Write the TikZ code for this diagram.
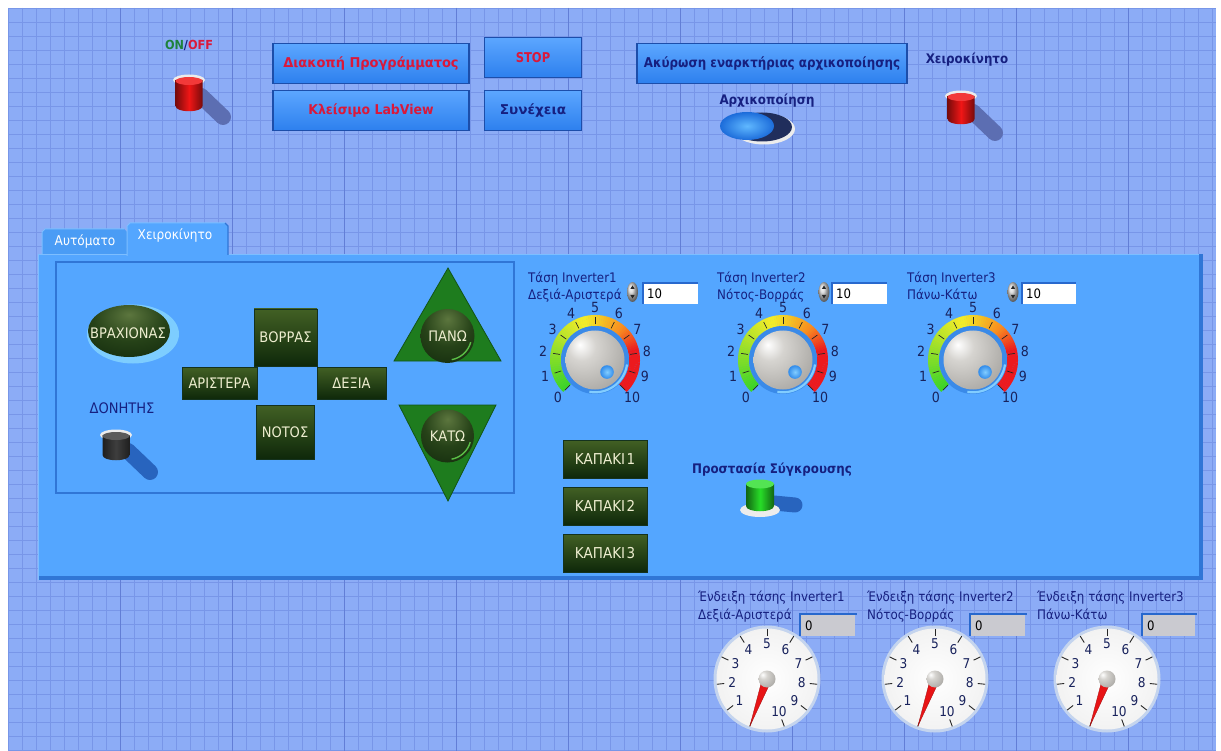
\documentclass[tikz,border=0pt]{standalone}
\usepackage{fontspec}
\setmainfont{DejaVu Sans Condensed}
\usetikzlibrary{shapes.geometric}

\definecolor{gridbg}{RGB}{140,172,246}
\definecolor{gridmin}{RGB}{120,150,232}
\definecolor{gridmaj}{RGB}{98,126,214}
\definecolor{panel}{RGB}{84,166,255}
\definecolor{paneldk}{RGB}{48,118,214}
\definecolor{panellt}{RGB}{125,190,255}
\definecolor{tabc}{RGB}{74,156,245}
\definecolor{btntop}{RGB}{92,166,255}
\definecolor{btnbot}{RGB}{45,128,238}
\definecolor{btnedge}{RGB}{28,78,170}
\definecolor{navy}{RGB}{22,32,128}
\definecolor{btnred}{RGB}{218,24,58}
\definecolor{ongreen}{RGB}{30,130,60}
\definecolor{gtop}{RGB}{66,96,36}
\definecolor{gbot}{RGB}{14,40,10}
\definecolor{gedge}{RGB}{20,50,30}
\definecolor{cream}{RGB}{238,238,208}
\definecolor{trigreen}{RGB}{30,124,30}
\definecolor{triedge}{RGB}{18,84,22}
\definecolor{ballin}{RGB}{92,118,62}
\definecolor{ballmid}{RGB}{38,66,24}
\definecolor{ballout}{RGB}{10,32,8}
\definecolor{ballrim}{RGB}{90,190,70}
\definecolor{glow}{RGB}{125,205,255}
\definecolor{kg}{RGB}{60,212,40}
\definecolor{ky}{RGB}{242,236,40}
\definecolor{ko}{RGB}{250,140,30}
\definecolor{kr}{RGB}{236,26,30}
\definecolor{knobring}{RGB}{58,138,232}
\definecolor{knobdot}{RGB}{50,140,235}
\definecolor{knobdotlt}{RGB}{130,205,255}
\definecolor{numc}{RGB}{24,34,92}
\definecolor{gaugerim}{RGB}{196,212,238}
\definecolor{needlered}{RGB}{232,20,22}
\definecolor{dispgrey}{RGB}{202,202,208}
\definecolor{boxedge}{RGB}{40,104,205}
\definecolor{swshadow}{RGB}{92,110,178}
\definecolor{swshadowp}{RGB}{40,100,190}
\definecolor{redbody}{RGB}{240,22,22}
\definecolor{blkbody}{RGB}{62,62,62}
\definecolor{rimwhite}{RGB}{236,236,236}
\definecolor{greenbody}{RGB}{40,222,40}
\definecolor{ovalin}{RGB}{96,184,255}
\definecolor{ovalout}{RGB}{28,108,218}
\definecolor{ovaldark}{RGB}{32,46,92}
\definecolor{metallt}{RGB}{214,212,208}
\definecolor{metalmid}{RGB}{176,174,170}
\definecolor{metaldk}{RGB}{140,138,136}

% light metal sphere, highlight at upper left
\pgfdeclareradialshading{metalball}{\pgfpoint{-13bp}{13bp}}{%
  color(0bp)=(white); color(12bp)=(metallt); color(34bp)=(metalmid);
  color(58bp)=(metaldk); color(100bp)=(metaldk)}
% dark green dome, highlight at the top
\pgfdeclareradialshading{greendome}{\pgfpoint{0bp}{16bp}}{%
  color(0bp)=(ballin); color(22bp)=(ballmid); color(52bp)=(ballout);
  color(100bp)=(ballout)}

% two-position lamp switch: #1 top centre, #2 body height, #3 body colour,
% #4 shadow colour, #5 name
\newcommand{\lvtoggle}[5]{%
\begin{scope}[shift={#1}]
  \coordinate (#5) at (0,0);
  \draw[#4, line width=16pt, line cap=round] (12,17) -- (34,38);
  \fill[rimwhite] (0,1) ellipse [x radius=16, y radius=5.5];
  \shade[left color=#3!50!black, right color=#3!50!black, middle color=#3]
    (-13.5,1) -- (-13.5,#2-5) .. controls (-13.5,#2+2) and (13.5,#2+2) .. (13.5,#2-5) -- (13.5,1) -- cycle;
  \fill[#3!85!white] (0,2) ellipse [x radius=13.5, y radius=4];
\end{scope}}

% rotary knob with coloured scale: #1 centre, #2 name
\newcommand{\lvknob}[2]{%
\begin{scope}[shift={#1}]
  \coordinate (#2) at (0,0);
  \foreach \i in {0,...,89}{
    \pgfmathsetmacro{\aa}{3*\i-225}
    \pgfmathsetmacro{\ab}{\aa+3.4}
    \pgfmathtruncatemacro{\pa}{min(100,max(0,\i/38*100))}
    \pgfmathtruncatemacro{\pb}{min(100,max(0,(\i-40)/18*100))}
    \pgfmathtruncatemacro{\pc}{min(100,max(0,(\i-58)/12*100))}
    \colorlet{segA}{ky!\pa!kg}
    \colorlet{segB}{ko!\pb!segA}
    \colorlet{segC}{kr!\pc!segB}
    \fill[segC] (\aa:34) -- (\aa:45) -- (\ab:45) -- (\ab:34) -- cycle;
  }
  \foreach \k in {0,...,10}{
    \pgfmathsetmacro{\s}{27*\k-225}
    \draw[black!85, line width=0.7pt] (\s:35.5) -- (\s:42.5);
    \node[knobnum] at (\s:52.5) {\k};
  }
  \fill[knobring] (0,0) circle (34);
  \draw[knobdotlt, line width=2.2pt] plot[domain=8:100, samples=24] (\x:32.3);
  \shade[shading=metalball] (0,0) circle (29.5);
  \shade[inner color=knobdotlt, outer color=knobdot] (45:17) circle (6.8);
\end{scope}}

% analogue meter, needle at zero: #1 centre, #2 name
\newcommand{\lvgauge}[2]{%
\begin{scope}[shift={#1}]
  \coordinate (#2) at (0,0);
  \fill[gaugerim] (0,0) circle (53.5);
  \shade[inner color=white, outer color=gray!10] (0,0) circle (50.5);
  \foreach \k in {0,...,10}{
    \pgfmathsetmacro{\s}{32*\k-250}
    \draw[black!85, line width=0.9pt] (\s:43) -- (\s:50.5);
  }
  \foreach \k in {1,...,10}{
    \pgfmathsetmacro{\s}{32*\k-250}
    \node[gaugenum] at (\s:35) {\k};
  }
  \fill[needlered, draw=needlered!70!black, line width=0.3pt] (-250:50) -- (-160:4.6) -- (20:4.6) -- cycle;
  \shade[shading=metalball] (0,0) circle (8.5);
\end{scope}}

% numeric entry with increment/decrement arrows: #1 spinner x, #2 box left x, #3 box right x, #4 name
\newcommand{\lvnumeric}[4]{%
  \shade[ball color=gray!35] (#1,292) ellipse [x radius=5.5, y radius=10];
  \fill[gray!30!black] (#1-2.2,289) -- (#1+2.2,289) -- (#1,285.5) -- cycle;
  \fill[gray!30!black] (#1-2.2,295) -- (#1+2.2,295) -- (#1,298.5) -- cycle;
  \fill[white] (#2,283) rectangle (#3,304);
  \draw[boxedge, line width=1.6pt] (#2,304) -- (#2,283) -- (#3,283);
  \node[numtxt, anchor=base west] (#4) at (#2+4,298.5) {10};
}

% read-only numeric display: #1 left x, #2 right x, #3 name
\newcommand{\lvdisplay}[3]{%
  \fill[dispgrey] (#1,615) rectangle (#2,636);
  \draw[boxedge, line width=1.4pt] (#1,636) -- (#1,614) -- (#2+2,614);
  \node[numtxt, anchor=base west] (#3) at (#1+5,630.5) {0};
}

% horizontal stretch of a label
\newcommand{\hstretch}[2]{\scalebox{#1}[1]{#2}}

\begin{document}
\begin{tikzpicture}[x=1pt, y=-1pt,
  lbl/.style={font=\fontsize{13.2}{15}\selectfont, text=navy, inner sep=0pt},
  lblb/.style={font=\bfseries\fontsize{13.2}{15}\selectfont, text=navy, inner sep=0pt},
  gtxt/.style={font=\fontsize{14.5}{16}\selectfont, text=cream, inner sep=0pt},
  knobnum/.style={font=\fontsize{14}{15}\selectfont, text=numc, inner sep=0pt},
  gaugenum/.style={font=\fontsize{13.5}{15}\selectfont, text=numc, inner sep=0pt},
  numtxt/.style={font=\fontsize{13}{14}\selectfont, text=black, inner sep=0pt},
  btn/.style={draw=btnedge, line width=1.4pt, top color=btntop, bottom color=btnbot,
    minimum height=40pt, inner sep=0pt, font=\bfseries\fontsize{13.5}{15}\selectfont},
  gbox/.style={draw=gedge, line width=0.6pt, top color=gtop, bottom color=gbot,
    inner sep=0pt, text=cream, font=\fontsize{14.5}{16}\selectfont},
  tabtxt/.style={font=\fontsize{13.5}{15}\selectfont, text=white, inner sep=0pt}]

\useasboundingbox (0,0) rectangle (1221,751);
\fill[white] (0,0) rectangle (1221,751);

% panel grid
\fill[gridbg] (8,8) rectangle (1216,751);
\foreach \k in {0,...,86} \draw[gridmin, line width=0.8pt] ({8+14*\k},8) -- ({8+14*\k},751);
\foreach \k in {0,...,53} \draw[gridmin, line width=0.8pt] (8,{8+14*\k}) -- (1216,{8+14*\k});
\foreach \k in {1,...,10} \draw[gridmaj, line width=0.9pt] ({8+112*\k},8) -- ({8+112*\k},751);

% ---------- top row of controls ----------
\node[font=\bfseries\fontsize{12.5}{14}\selectfont, inner sep=0pt] (onoff) at (189,45)
  {\textcolor{ongreen}{ON}\textcolor{navy}{/}\textcolor{btnred}{OFF}};
\lvtoggle{(189,79)}{32}{redbody}{swshadow}{onoffsw}

\node[btn, minimum width=196pt, text=btnred] (stopprog) at (371,63.5) {\hstretch{1.07}{Διακοπή Προγράμματος}};
\node[btn, minimum width=196pt, text=btnred] (closelv) at (371,110.5) {\hstretch{1.03}{Κλείσιμο LabView}};
\node[btn, minimum width=97pt, text=btnred] (stopbtn) at (533,57.5) {\hstretch{0.95}{STOP}};
\node[btn, minimum width=97pt, text=navy] (contbtn) at (533,110.5) {\hstretch{1.12}{Συνέχεια}};
\node[btn, minimum width=270pt, text=navy] (cancelinit) at (772,63.5) {\hstretch{0.98}{Ακύρωση εναρκτήριας αρχικοποίησης}};

\node[lblb] (initlbl) at (767,101) {Αρχικοποίηση};
\fill[rimwhite] (764,129) ellipse [x radius=31, y radius=15.5];
\fill[ovaldark] (762,127) ellipse [x radius=30, y radius=14.5];
\shade[inner color=ovalin, outer color=ovalout] (747,126) ellipse [x radius=27, y radius=14];
\coordinate (initsw) at (747,126);

\node[lblb] (manlbl) at (967,60) {Χειροκίνητο};
\lvtoggle{(961,95)}{29}{redbody}{swshadow}{mansw}

% ---------- tab control ----------
\fill[tabc] (42,254) -- (42,232) -- (45,229) -- (124,229) -- (127,232) -- (127,254) -- cycle;
\draw[panellt, line width=1pt] (42,254) -- (42,232) -- (45,229) -- (124,229);
\node[tabtxt] (tabauto) at (85,242) {Αυτόματο};

\fill[panel] (38,254) rectangle (1203,580);
\fill[paneldk] (1199,254) rectangle (1203,580);
\fill[paneldk] (38,576) rectangle (1203,580);
\draw[panellt, line width=1pt] (38,580) -- (38,254.5) -- (127,254.5);
\draw[panellt, line width=1pt] (228,254.5) -- (1199,254.5);

\fill[panel] (127,258) -- (127,226) -- (130,223) -- (225,223) -- (228,226) -- (228,258) -- cycle;
\draw[panellt, line width=1pt] (127,256) -- (127,226) -- (130,223) -- (225,223);
\draw[paneldk, line width=1.2pt] (225,223) -- (228,226) -- (228,255);
\node[tabtxt] (tabman) at (175,236) {Χειροκίνητο};

% raised frame of the motion controls
\draw[paneldk, line width=1.6pt] (56,262) rectangle (514,493);

% arm selector
\fill[glow] (133,334) ellipse [x radius=46, y radius=29.5];
\shade[shading=greendome] (129,331) ellipse [x radius=41, y radius=26];
\node[gtxt] (arm) at (128,333) {ΒΡΑΧΙΟΝΑΣ};

\node[lbl, font=\fontsize{14.5}{16}\selectfont] (vibrlbl) at (122,408) {ΔΟΝΗΤΗΣ};
\lvtoggle{(116,434)}{26}{blkbody}{swshadowp}{vibrsw}

% direction pad
\node[gbox, minimum width=63pt, minimum height=57pt] (north) at (285.5,337.5) {ΒΟΡΡΑΣ};
\node[gbox, minimum width=75pt, minimum height=32pt] (west) at (219.5,383) {ΑΡΙΣΤΕΡΑ};
\node[gbox, minimum width=69pt, minimum height=32pt] (east) at (351.5,383) {ΔΕΞΙΑ};
\node[gbox, minimum width=58pt, minimum height=54pt] (south) at (285,432) {ΝΟΤΟΣ};

% up / down
\fill[trigreen, draw=triedge, line width=0.8pt] (448,268) -- (501,361) -- (394,361) -- cycle;
\shade[shading=greendome] (447.5,336) circle (27);
\draw[ballrim, line width=1.4pt] plot[domain=15:80, samples=16] ({447.5+24*cos(\x)}, {336+24*sin(\x)});
\node[gtxt] (up) at (447.5,336) {ΠΑΝΩ};

\fill[trigreen, draw=triedge, line width=0.8pt] (399,405) -- (496,405) -- (448,501) -- cycle;
\shade[shading=greendome] (447.5,436) circle (26.5);
\draw[ballrim, line width=1.4pt] plot[domain=15:80, samples=16] ({447.5+23.5*cos(\x)}, {436+23.5*sin(\x)});
\node[gtxt] (down) at (447.5,436) {ΚΑΤΩ};

% inverter set-points
\node[lbl, anchor=base west] (k1a) at (528,283) {Τάση Inverter1};
\node[lbl, anchor=base west] (k1b) at (528,300) {Δεξιά-Αριστερά};
\lvnumeric{632.5}{643}{698}{k1val}
\lvknob{(595,360)}{knob1}

\node[lbl, anchor=base west] (k2a) at (717,283) {Τάση Inverter2};
\node[lbl, anchor=base west] (k2b) at (717,300) {Νότος-Βορράς};
\lvnumeric{824}{832}{887}{k2val}
\lvknob{(783,360)}{knob2}

\node[lbl, anchor=base west] (k3a) at (907,283) {Τάση Inverter3};
\node[lbl, anchor=base west] (k3b) at (907,300) {Πάνω-Κάτω};
\lvnumeric{1013}{1022}{1076}{k3val}
\lvknob{(973,360)}{knob3}

% lids
\node[gbox, minimum width=84pt, minimum height=38pt, font=\fontsize{15}{16}\selectfont] (lid1) at (605,459) {ΚΑΠΑΚΙ\kern1.5pt 1};
\node[gbox, minimum width=84pt, minimum height=38pt, font=\fontsize{15}{16}\selectfont] (lid2) at (605,506) {ΚΑΠΑΚΙ\kern1.5pt 2};
\node[gbox, minimum width=84pt, minimum height=38pt, font=\fontsize{15}{16}\selectfont] (lid3) at (605,553) {ΚΑΠΑΚΙ\kern1.5pt 3};

% collision protection lamp
\node[lblb] (colllbl) at (772,470) {Προστασία Σύγκρουσης};
\draw[swshadowp, line width=15pt, line cap=round] (774,503) -- (795,505);
\fill[rimwhite] (760,510) ellipse [x radius=20, y radius=7];
\shade[left color=greenbody!45!black, right color=greenbody!45!black, middle color=greenbody]
  (746,484) -- (746,506) .. controls (746,513) and (774,513) .. (774,506) -- (774,484) -- cycle;
\fill[greenbody!80!white] (760,484) ellipse [x radius=14, y radius=4.5];
\coordinate (collsw) at (760,484);

% ---------- voltage meters ----------
\node[lbl, anchor=base west] (g1a) at (698,601) {Ένδειξη τάσης Inverter1};
\node[lbl, anchor=base west] (g1b) at (698,619) {Δεξιά-Αριστερά};
\lvdisplay{800}{855}{g1val}
\lvgauge{(767,679)}{gauge1}

\node[lbl, anchor=base west] (g2a) at (867,601) {Ένδειξη τάσης Inverter2};
\node[lbl, anchor=base west] (g2b) at (867,619) {Νότος-Βορράς};
\lvdisplay{970}{1025}{g2val}
\lvgauge{(935,679)}{gauge2}

\node[lbl, anchor=base west] (g3a) at (1037,601) {Ένδειξη τάσης Inverter3};
\node[lbl, anchor=base west] (g3b) at (1037,619) {Πάνω-Κάτω};
\lvdisplay{1142}{1195}{g3val}
\lvgauge{(1107,679)}{gauge3}

\end{tikzpicture}
\end{document}
